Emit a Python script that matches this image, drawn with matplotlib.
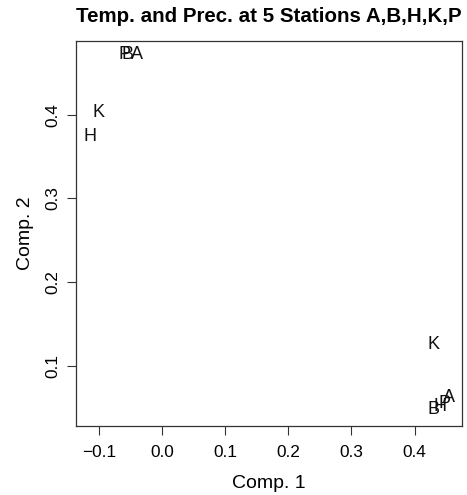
import matplotlib
matplotlib.use("Agg")
import matplotlib.pyplot as plt

plt.rcParams['font.family'] = ['Liberation Sans', 'DejaVu Sans']

stations = ["A", "B", "H", "K", "P"]
# group 1 (upper-left cluster)
comp1_g1 = [-0.040, -0.054, -0.114, -0.101, -0.060]
comp2_g1 = [0.472, 0.472, 0.374, 0.402, 0.472]
# group 2 (lower-right cluster)
comp1_g2 = [0.454, 0.430, 0.440, 0.430, 0.448]
comp2_g2 = [0.062, 0.048, 0.051, 0.125, 0.055]

xticks = [-0.1, 0.0, 0.1, 0.2, 0.3, 0.4]
yticks = [0.1, 0.2, 0.3, 0.4]

fig = plt.figure(figsize=(4.67, 4.95), dpi=100)
ax = fig.add_axes([76/467, 1-426/495, (462-76)/467, (426-41)/495])

for xs, ys in [(comp1_g1, comp2_g1), (comp1_g2, comp2_g2)]:
    for lab, x, y in zip(stations, xs, ys):
        ax.text(x, y, lab, ha='center', va='center', fontsize=13, color='#111111')

ax.set_xlim(-0.136, 0.475)
ax.set_ylim(0.028, 0.488)
ax.set_xticks(xticks)
ax.set_xticklabels(["\u22120.1" if t < 0 else f"{t:.1f}" for t in xticks])
ax.set_yticks(yticks)
ax.set_yticklabels([f"{t:.1f}" for t in yticks], rotation=90, va='center')
ax.tick_params(direction='out', length=6.5, width=0.8, labelsize=12.4, color='#333333')
ax.tick_params(axis='x', pad=7)
ax.tick_params(axis='y', pad=5)
for s in ax.spines.values():
    s.set_linewidth(0.9)
    s.set_color('#333333')

ax.set_xlabel("Comp. 1", fontsize=14, labelpad=11)
ax.set_ylabel("Comp. 2", fontsize=14, labelpad=8)
ax.set_title("Temp. and Prec. at 5 Stations A,B,H,K,P", fontsize=14.8,
             fontweight='bold', pad=14)

fig.savefig("out.png", dpi=100)
